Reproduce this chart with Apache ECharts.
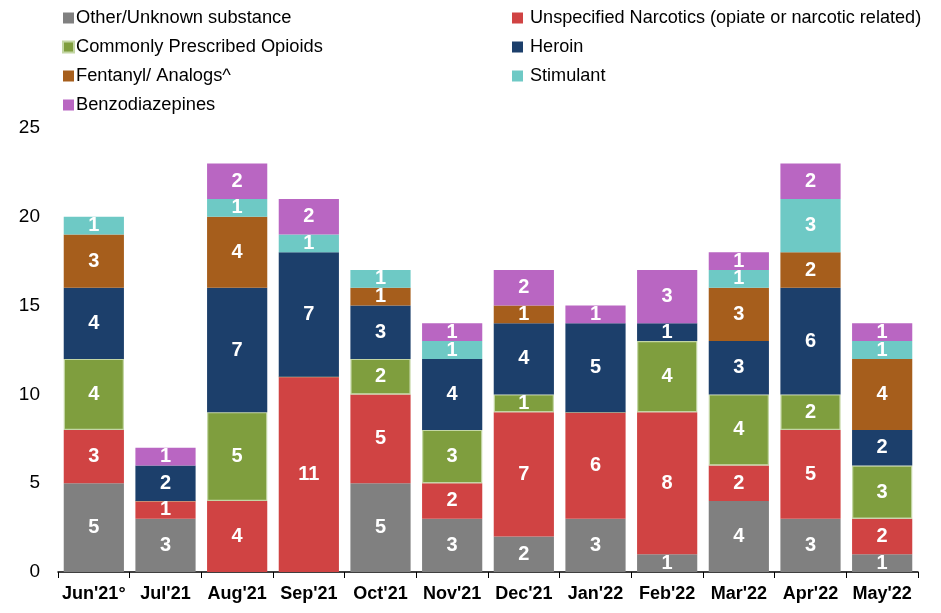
<!DOCTYPE html>
<html>
<head>
<meta charset="utf-8">
<script src="https://cdn.jsdelivr.net/npm/echarts@6/dist/echarts.min.js"></script>
<style>
  html, body { margin: 0; padding: 0; background: #fff; }
  #main { width: 941px; height: 613px; }
</style>
</head>
<body>
<div id="main"></div>
<script>
var months = ["Jun'21°", "Jul'21", "Aug'21", "Sep'21", "Oct'21", "Nov'21", "Dec'21", "Jan'22", "Feb'22", "Mar'22", "Apr'22", "May'22"];

var other       = [5, 3, 0, 0, 5, 3, 2, 3, 1, 4, 3, 1];
var unspecified = [3, 1, 4, 11, 5, 2, 7, 6, 8, 2, 5, 2];
var prescribed  = [4, 0, 5, 0, 2, 3, 1, 0, 4, 4, 2, 3];
var heroin      = [4, 2, 7, 7, 3, 4, 4, 5, 1, 3, 6, 2];
var fentanyl    = [3, 0, 4, 0, 1, 0, 1, 0, 0, 3, 2, 4];
var stimulant   = [1, 0, 1, 1, 1, 1, 0, 0, 0, 1, 3, 1];
var benzo       = [0, 1, 2, 2, 0, 1, 2, 1, 3, 1, 2, 1];

var yTicks = [0, 5, 10, 15, 20, 25];

var chart = echarts.init(document.getElementById('main'));

// white bold number inside each segment, nothing for zero
var lbl = {
  show: true,
  color: '#fff',
  fontWeight: 'bold',
  fontSize: 20,
  fontFamily: 'Liberation Sans, Arial, sans-serif',
  formatter: function (p) { return p.value ? p.value : ''; }
};

function mk(name, data, color, extra) {
  var s = {
    name: name,
    type: 'bar',
    stack: 'all',
    barCategoryGap: '16%',
    data: data,
    label: lbl,
    itemStyle: { color: color },
    emphasis: { disabled: true }
  };
  if (extra) s.itemStyle = Object.assign(s.itemStyle, extra);
  return s;
}

var option = {
  animation: false,
  textStyle: { fontFamily: 'Liberation Sans, Arial, sans-serif' },
  legend: [
    {
      orient: 'vertical', left: 57, top: 3,
      itemWidth: 11, itemHeight: 11, itemGap: 9, icon: 'rect',
      textStyle: { fontSize: 18.3, color: '#000', fontFamily: 'Liberation Sans, Arial, sans-serif', lineHeight: 20, padding: [0, 0, 0, -3] },
      data: ['Other/Unknown substance', 'Commonly Prescribed Opioids', 'Fentanyl/ Analogs^', 'Benzodiazepines']
    },
    {
      orient: 'vertical', left: 507, top: 3,
      itemWidth: 11, itemHeight: 11, itemGap: 9, icon: 'rect',
      textStyle: { fontSize: 18.1, color: '#000', fontFamily: 'Liberation Sans, Arial, sans-serif', lineHeight: 20, padding: [0, 0, 0, 2] },
      data: ['Unspecified Narcotics (opiate or narcotic related)', 'Heroin', 'Stimulant']
    }
  ],
  grid: { left: 58, right: 23, top: 128, bottom: 41, containLabel: false },
  xAxis: {
    type: 'category',
    data: months,
    axisLine: { lineStyle: { color: '#000', width: 1.5 } },
    axisTick: { show: true, alignWithLabel: false, length: 6, lineStyle: { color: '#000' } },
    axisLabel: { interval: 0, color: '#000', fontWeight: 'bold', fontSize: 18, margin: 13 }
  },
  yAxis: {
    type: 'value',
    min: yTicks[0],
    max: yTicks[yTicks.length - 1],
    interval: 5,
    axisLine: { show: false },
    axisTick: { show: false },
    splitLine: { show: false },
    axisLabel: { color: '#000', fontSize: 19, margin: 18 }
  },
  series: [
    mk('Other/Unknown substance', other, '#808080'),
    mk('Unspecified Narcotics (opiate or narcotic related)', unspecified, '#D04343'),
    mk('Commonly Prescribed Opioids', prescribed, '#7F9E3E', { borderColor: '#C3D6A4', borderWidth: 1.2 }),
    mk('Heroin', heroin, '#1C3F6B'),
    mk('Fentanyl/ Analogs^', fentanyl, '#A65E1C'),
    mk('Stimulant', stimulant, '#6EC9C5'),
    mk('Benzodiazepines', benzo, '#B966C2')
  ]
};

chart.setOption(option);
</script>
</body>
</html>
